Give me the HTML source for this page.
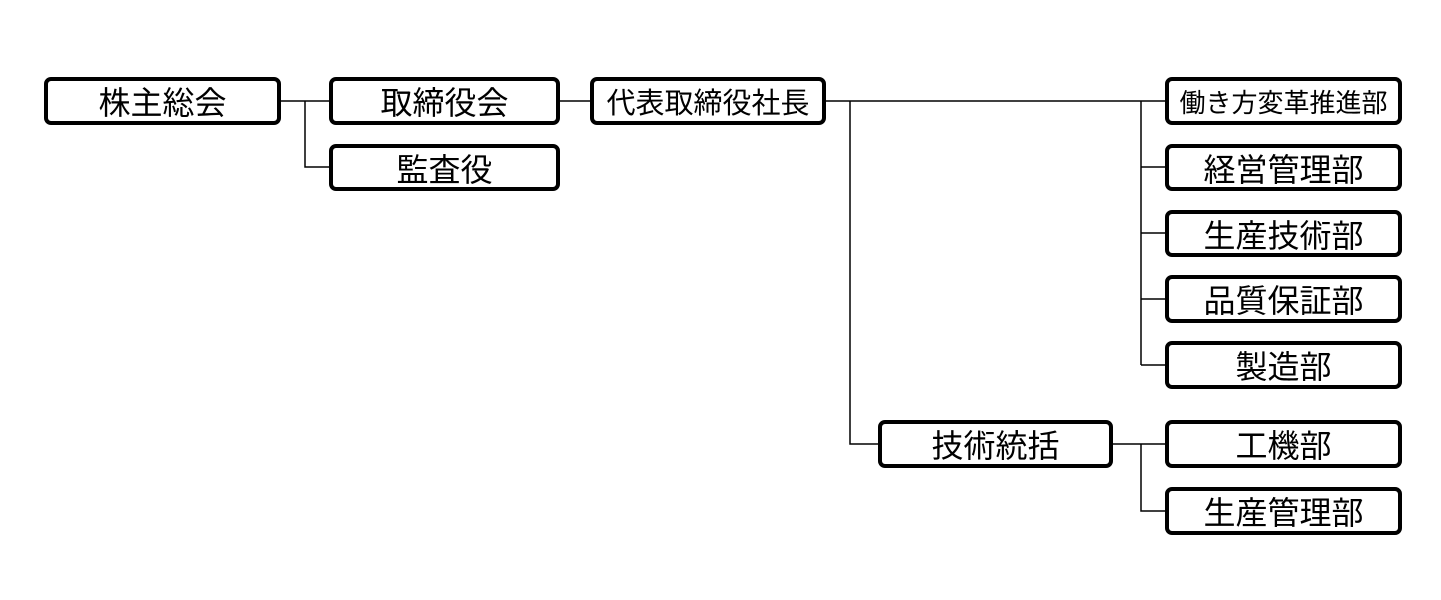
<!DOCTYPE html>
<html><head><meta charset="utf-8"><style>
body{margin:0;width:1441px;height:600px;background:#fff;position:relative;overflow:hidden;font-family:"Liberation Sans","Noto Sans CJK JP",sans-serif;}
.b{position:absolute;box-sizing:border-box;border:4px solid #000;border-radius:7px;background:#fff;display:flex;align-items:center;justify-content:center;font-size:32px;color:#000;white-space:nowrap;}
svg{position:absolute;left:0;top:0}
</style></head><body>
<svg width="1441" height="600"><g stroke="#000" stroke-width="1.5" fill="none">
<path d="M281 101H329M305 101V167H329M560 101H590M826 101H1165M850 101V444H878M1141 101V365M1141 167H1165M1141 233H1165M1141 299H1165M1141 365H1165M1113 444H1165M1141 444V511H1165"/>
</g></svg>
<div class="b" style="left:44px;top:77px;width:237px;height:48px">株主総会</div>
<div class="b" style="left:329px;top:77px;width:231px;height:48px">取締役会</div>
<div class="b" style="left:329px;top:144px;width:231px;height:47px">監査役</div>
<div class="b" style="left:590px;top:77px;width:236px;height:48px;font-size:29px">代表取締役社長</div>
<div class="b" style="left:1165px;top:77px;width:237px;height:48px;font-size:26px">働き方変革推進部</div>
<div class="b" style="left:1165px;top:144px;width:237px;height:47px">経営管理部</div>
<div class="b" style="left:1165px;top:210px;width:237px;height:47px">生産技術部</div>
<div class="b" style="left:1165px;top:275px;width:237px;height:48px">品質保証部</div>
<div class="b" style="left:1165px;top:341px;width:237px;height:48px">製造部</div>
<div class="b" style="left:878px;top:420px;width:235px;height:48px">技術統括</div>
<div class="b" style="left:1165px;top:420px;width:237px;height:48px">工機部</div>
<div class="b" style="left:1165px;top:487px;width:237px;height:48px">生産管理部</div>
</body></html>
